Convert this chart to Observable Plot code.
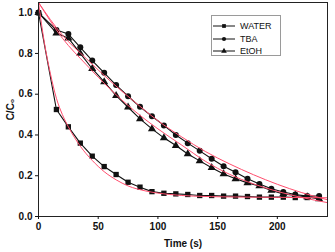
<!DOCTYPE html>
<html>
<head>
<meta charset="utf-8">
<script src="https://cdn.jsdelivr.net/npm/d3@7"></script>
<script src="https://cdn.jsdelivr.net/npm/@observablehq/plot@0.6"></script>
<style>
  html, body { margin: 0; padding: 0; background: #fff; }
  #wrap { position: relative; width: 335px; height: 252px; font-family: "Liberation Sans", Arial, sans-serif; }
  #legend { position: absolute; left: 211px; top: 15px; width: 70px; height: 41px; border: 1px solid #9a9a9a; background: #fff; box-sizing: border-box; }
  #legend .item { position: absolute; left: 0; height: 12px; display: flex; align-items: center; font-size: 9px; color: #111; }
  #legend svg { display: block; }
</style>
</head>
<body>
<div id="wrap"><div id="legend"></div></div>
<script>
const seriesNames = ["WATER", "TBA", "EtOH"];
const symbols = ["square", "circle", "triangle"];

const time = [0, 15, 25, 35, 45, 55, 65, 75, 85, 95, 105, 115, 125, 135, 145, 155, 165, 175, 185, 195, 205, 215, 225, 235];
const water = [1.0, 0.525, 0.44, 0.36, 0.296, 0.245, 0.206, 0.168, 0.144, 0.122, 0.114, 0.111, 0.108, 0.103, 0.103, 0.100, 0.100, 0.098, 0.095, 0.095, 0.095, 0.093, 0.093, 0.093];
const tba = [1.0, 0.915, 0.895, 0.83, 0.765, 0.705, 0.645, 0.59, 0.538, 0.492, 0.447, 0.40, 0.36, 0.322, 0.283, 0.247, 0.217, 0.185, 0.16, 0.136, 0.12, 0.108, 0.10, 0.10];
const etoh = [1.0, 0.90, 0.875, 0.80, 0.725, 0.66, 0.593, 0.536, 0.479, 0.43, 0.386, 0.348, 0.307, 0.273, 0.239, 0.209, 0.185, 0.165, 0.15, 0.128, 0.111, 0.103, 0.096, 0.086];

const fitTimeWater = [0, 5, 10, 15, 20, 25, 35, 45, 55, 65, 75, 90, 110, 130, 160, 200, 242];
const fitWater = [1.05, 0.85, 0.70, 0.58, 0.50, 0.44, 0.345, 0.275, 0.22, 0.18, 0.15, 0.125, 0.108, 0.10, 0.096, 0.094, 0.092];
const fitTime = [0, 20, 40, 60, 80, 100, 120, 140, 160, 180, 200, 220, 242];
const fitTba = [1.05, 0.89, 0.775, 0.665, 0.565, 0.47, 0.39, 0.318, 0.258, 0.205, 0.158, 0.118, 0.082];
const fitEtoh = [1.05, 0.875, 0.745, 0.625, 0.52, 0.43, 0.35, 0.27, 0.207, 0.16, 0.123, 0.094, 0.068];

const xTicks = [0, 50, 100, 150, 200];
const yTicks = [0.0, 0.2, 0.4, 0.6, 0.8, 1.0];

const measured = [];
[water, tba, etoh].forEach((arr, i) => arr.forEach((v, j) => measured.push({series: seriesNames[i], t: time[j], c: v})));
const fits = [];
fitWater.forEach((v, j) => fits.push({series: "WATER", t: fitTimeWater[j], c: v}));
fitTba.forEach((v, j) => fits.push({series: "TBA", t: fitTime[j], c: v}));
fitEtoh.forEach((v, j) => fits.push({series: "EtOH", t: fitTime[j], c: v}));

const red = "#ff4d6d";

const chart = Plot.plot({
  width: 335,
  height: 252,
  marginLeft: 38,
  marginRight: 8,
  marginTop: 2,
  marginBottom: 36,
  style: {fontFamily: "'Liberation Sans', Arial, sans-serif", fontSize: "10px", color: "#111", background: "#fff"},
  x: {domain: [0, 242]},
  y: {domain: [0, 1.05]},
  symbol: {domain: seriesNames, range: symbols},
  marks: [
    Plot.line(measured, {x: "t", y: "c", z: "series", stroke: "#111", strokeWidth: 1.1}),
    Plot.dot(measured, {x: "t", y: "c", symbol: "series", fill: "#111", stroke: "none", r: 3}),
    Plot.line(fits, {x: "t", y: "c", z: "series", stroke: red, strokeWidth: 1, curve: "monotone-x"}),
    Plot.frame({stroke: "#222", strokeWidth: 1}),
    Plot.axisX({ticks: xTicks, tickSize: 3, tickPadding: 3, fontWeight: "bold", fontSize: 10, label: "Time (s)", labelAnchor: "center", labelArrow: "none", labelOffset: 30}),
    Plot.axisY({ticks: yTicks, tickFormat: d3.format(".1f"), tickSize: 3, tickPadding: 3, fontWeight: "bold", fontSize: 10, label: "C/C₀", labelAnchor: "center", labelArrow: "none", labelOffset: 32})
  ]
});
chart.style.position = "absolute";
chart.style.left = "0";
chart.style.top = "0";
const wrap = document.getElementById("wrap");
wrap.insertBefore(chart, wrap.firstChild);
d3.select(chart).selectAll("[aria-label='x-axis label'] text, [aria-label='y-axis label'] text").attr("font-weight", "bold");

const legend = document.getElementById("legend");
seriesNames.forEach((name, i) => {
  const item = document.createElement("div");
  item.className = "item";
  item.style.top = (4 + i * 12.5) + "px";
  const svg = d3.create("svg").attr("width", 26).attr("height", 12);
  svg.append("line").attr("x1", 1).attr("x2", 23).attr("y1", 6).attr("y2", 6).attr("stroke", "#111").attr("stroke-width", 1);
  svg.append("path").attr("transform", "translate(12,6)").attr("d", d3.symbol(i === 0 ? d3.symbolSquare : i === 1 ? d3.symbolCircle : d3.symbolTriangle, 14)()).attr("fill", "#111");
  item.appendChild(svg.node());
  const label = document.createElement("span");
  label.textContent = name;
  label.style.marginLeft = "2px";
  item.appendChild(label);
  legend.appendChild(item);
});
</script>
</body>
</html>
